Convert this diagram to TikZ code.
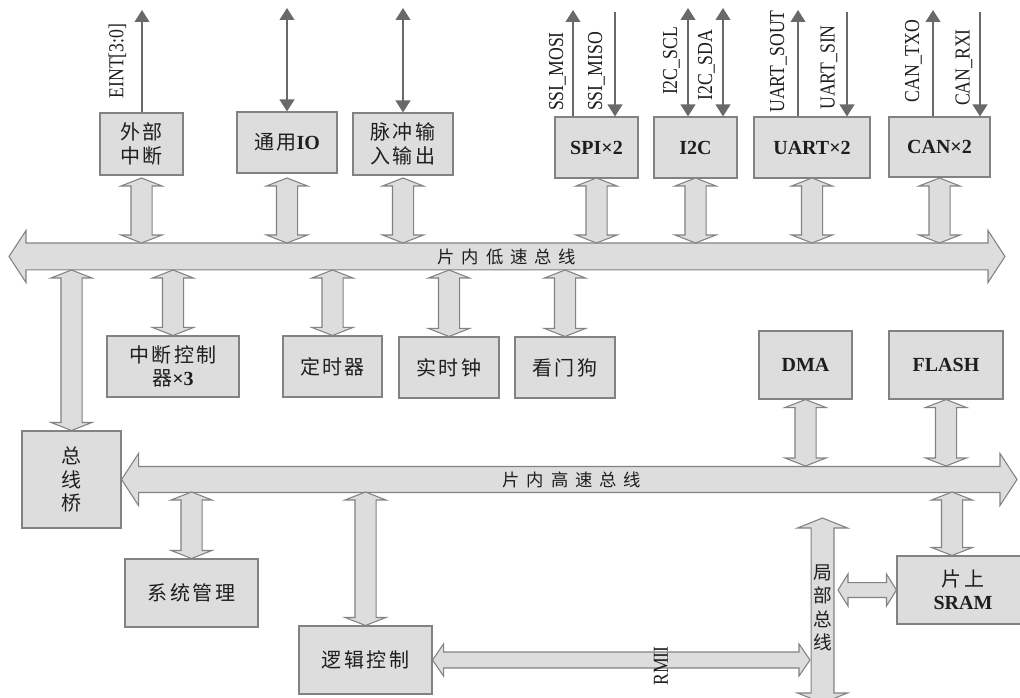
\documentclass[tikz,border=0pt]{standalone}
\usepackage{fontspec}
\setmainfont{Liberation Serif}
\newfontfamily\cjk[LetterSpace=12]{Noto Sans CJK SC}
\newfontfamily\narrow[FakeStretch=0.83]{Liberation Serif}
\usetikzlibrary{arrows.meta, calc}

\definecolor{boxfill}{RGB}{221,221,221}
\definecolor{boxline}{RGB}{130,130,130}
\definecolor{sigcol}{RGB}{105,105,105}
\definecolor{inkcol}{RGB}{30,30,30}

\newcommand{\en}[1]{{\rmfamily\bfseries #1}}

\tikzset{
  block/.style={rectangle, draw=boxline, fill=boxfill, line width=0.8pt, text=inkcol, align=center, inner sep=0pt, font=\cjk\fontsize{15}{17.5}\selectfont},
  dims/.style 2 args={minimum width=#1*0.75pt, minimum height=#2*0.75pt},
  sig/.style={draw=sigcol, line width=1.5pt, >={Triangle[width=11pt,length=9pt]}},
  pinlabel/.style={rotate=90, inner sep=0pt, text=inkcol, font=\narrow\fontsize{16}{16}\selectfont},
  buslabel/.style={text=inkcol, inner sep=0pt, align=center, font=\cjk\addfontfeature{LetterSpace=40}\fontsize{13}{15}\selectfont},
  fat shaft/.store in=\fatshaft, fat head/.store in=\fathead, fat len/.store in=\fatlen,
  fat shaft=7.9pt, fat head=15.4pt, fat len=6pt,
  vfat/.style={draw=boxline, fill=boxfill, line width=0.8pt, line join=miter,
    to path={let \p1=(\tikztostart), \p2=(\tikztotarget) in
      -- (\x1+\fathead,\y1-\fatlen) -- (\x1+\fatshaft,\y1-\fatlen)
      -- (\x2+\fatshaft,\y2+\fatlen) -- (\x2+\fathead,\y2+\fatlen)
      -- (\x2,\y2) -- (\x2-\fathead,\y2+\fatlen) -- (\x2-\fatshaft,\y2+\fatlen)
      -- (\x1-\fatshaft,\y1-\fatlen) -- (\x1-\fathead,\y1-\fatlen) -- cycle}},
  hfat/.style={draw=boxline, fill=boxfill, line width=0.8pt, line join=miter,
    to path={let \p1=(\tikztostart), \p2=(\tikztotarget) in
      -- (\x1+\fatlen,\y1+\fathead) -- (\x1+\fatlen,\y1+\fatshaft)
      -- (\x2-\fatlen,\y2+\fatshaft) -- (\x2-\fatlen,\y2+\fathead)
      -- (\x2,\y2) -- (\x2-\fatlen,\y2-\fathead) -- (\x2-\fatlen,\y2-\fatshaft)
      -- (\x1+\fatlen,\y1-\fatshaft) -- (\x1+\fatlen,\y1-\fathead) -- cycle}},
}

\begin{document}
\begin{tikzpicture}[x=0.75pt, y=-0.75pt]
    \useasboundingbox (0,0) rectangle (1020,698);

    % Peripherals on the low speed bus (top row)
    \node (ext) [block, dims={83}{62}] at (141.5,144) {外部\\中断};
    \node (gpio) [block, dims={100}{61}] at (287,142.5) {通用\en{IO}};
    \node (pwm) [block, dims={100}{62}] at (403,144) {脉冲输\\入输出};
    \node (spi) [block, dims={83}{61}] at (596.5,147.5) {\en{SPI×2}};
    \node (iic) [block, dims={83}{61}] at (695.5,147.5) {\en{I2C}};
    \node (uart) [block, dims={116}{61}] at (812,147.5) {\en{UART×2}};
    \node (can) [block, dims={101}{60}] at (939.5,147) {\en{CAN×2}};

    % Peripherals on the low speed bus (second row)
    \node (intc) [block, dims={132}{61}] at (173,366.5) {中断控制\\器\en{×3}};
    \node (timer) [block, dims={99}{61}] at (332.5,366.5) {定时器};
    \node (rtc) [block, dims={100}{61}] at (449,367.5) {实时钟};
    \node (wdt) [block, dims={100}{61}] at (565,367.5) {看门狗};

    % High speed side
    \node (dma) [block, dims={93}{68}] at (805.5,365) {\en{DMA}};
    \node (flash) [block, dims={114}{68}] at (946,365) {\en{FLASH}};
    \node (bridge) [block, dims={99}{97}] at (71.5,479.5) {总\\线\\桥};
    \node (sysm) [block, dims={133}{68}] at (191.5,593) {系统管理};
    \node (logic) [block, dims={133}{68}] at (365.5,660) {逻辑控制};
    \node (sram) [block, dims={132}{68}] at (963,590) {片上\\\en{SRAM}};

    % Bus end points
    \coordinate (lbW) at (9,256.5);
    \coordinate (lbE) at (1005,256.5);
    \coordinate (lbN) at (0,243);
    \coordinate (lbS) at (0,270);
    \coordinate (upTop) at (0,178);
    \coordinate (hbE) at (1017,479.5);
    \coordinate (hbN) at (0,466);
    \coordinate (hbS) at (0,492);
    \coordinate (lcT) at (822.5,518);
    \coordinate (lcB) at (822.5,703);
    \coordinate (lcW) at (810,0);
    \coordinate (lcE) at (838,0);

    % Buses
    \draw [hfat, fat shaft=10.1pt, fat head=19.5pt, fat len=12.75pt] (lbW) to (lbE);
    \node (lbtext) [buslabel] at (507,256.5) {片内低速总线};
    \draw [hfat, fat shaft=9.75pt, fat head=19.5pt, fat len=12.75pt] (bridge.east) to (hbE);
    \node (hbtext) [buslabel] at (572,479.5) {片内高速总线};
    \draw [vfat, fat shaft=8.6pt, fat head=18.75pt, fat len=7.5pt] (lcT) to (lcB);
    \node (lctext) [text=inkcol, align=center, inner sep=0pt, font=\cjk\fontsize{14}{17.5}\selectfont] at (822.5,608) {局\\部\\总\\线};

    % Bus links
    \foreach \u in {ext, gpio, pwm, spi, iic, uart, can}
        \draw [vfat] (\u.south |- upTop) to (\u.south |- lbN);
    \foreach \d in {bridge, intc, timer, rtc, wdt}
        \draw [vfat] (\d.north |- lbS) to (\d.north);
    \foreach \u in {dma, flash}
        \draw [vfat] (\u.south) to (\u.south |- hbN);
    \foreach \d in {sysm, logic}
        \draw [vfat] (\d.north |- hbS) to (\d.north);
    \draw [vfat] ([xshift=-8.25pt]sram.north |- hbS) to ([xshift=-8.25pt]sram.north);
    \draw [hfat, fat shaft=6pt, fat head=12pt, fat len=8.25pt] (logic.east) to (logic.east -| lcW);
    \node (rmii) [pinlabel] at (661,666) {RMII};
    \draw [hfat, fat shaft=5.6pt, fat head=12pt, fat len=7.5pt] (sram.west -| lcE) to (sram.west);

    % External pins
    \foreach \u/\xx in {ext/142, spi/573, uart/798, can/933} {
        \coordinate (pin\xx) at (\xx,10);
        \draw [sig, ->] (\u.north -| pin\xx) -- (pin\xx);
    }
    \foreach \u/\xx in {spi/615, uart/847, can/980} {
        \coordinate (pin\xx) at (\xx,12);
        \draw [sig, ->] (pin\xx) -- (\u.north -| pin\xx);
    }
    \foreach \u/\xx in {gpio/287, pwm/403, iic/688, iic/723} {
        \coordinate (pin\xx) at (\xx,8);
        \draw [sig, <->] (\u.north -| pin\xx) -- (pin\xx);
    }

    % Pin names
    \node (eint) [pinlabel] at (117.5,61) {EINT[3:0]};
    \node (mosi) [pinlabel] at (557.5,71.5) {SSI\_MOSI};
    \node (miso) [pinlabel] at (596.5,71.5) {SSI\_MISO};
    \node (scl) [pinlabel] at (671.5,61) {I2C\_SCL};
    \node (sda) [pinlabel] at (706.5,65) {I2C\_SDA};
    \node (sout) [pinlabel] at (778.5,61.5) {UART\_SOUT};
    \node (sin) [pinlabel] at (829,67.5) {UART\_SIN};
    \node (txo) [pinlabel] at (913.5,61) {CAN\_TXO};
    \node (rxi) [pinlabel] at (964,67.5) {CAN\_RXI};

\end{tikzpicture}
\end{document}
